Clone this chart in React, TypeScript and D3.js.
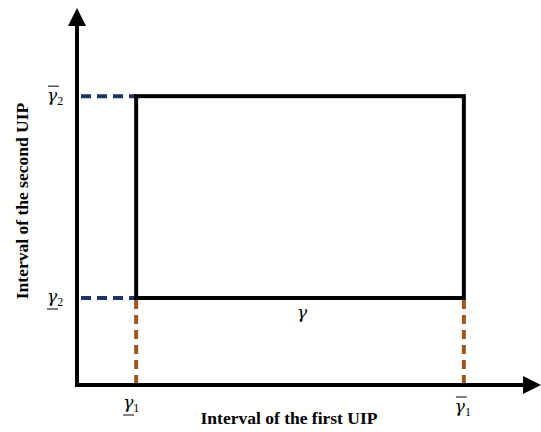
import React from "react";
import * as d3 from "d3";

// interval bounds (axis units)
const firstUIP = [1.02, 6.67]; // gamma1 lower, upper
const secondUIP = [1.5, 4.98]; // gamma2 lower, upper
const xDomain = [0, 8];
const yDomain = [0, 6.5];

const W = 541;
const H = 432;

const App = () => {
  const x = d3.scaleLinear().domain(xDomain).range([77, 541]);
  const y = d3.scaleLinear().domain(yDomain).range([385, 8]);

  const x0 = x(0);
  const y0 = y(0);
  const [gx1, gx2] = firstUIP.map((v) => x(v));
  const [gy1, gy2] = secondUIP.map((v) => y(v));

  const serif = "Liberation Serif, Times New Roman, serif";
  const greek = "DejaVu Serif, serif";
  const navy = "#1c3468";
  const brown = "#a0561f";

  const gamma = (cx: number, cy: number, sub: string, mark: "over" | "under") => (
    <g>
      <text x={cx} y={cy} fontFamily={greek} fontStyle="italic" fontSize={17}>
        γ
        <tspan fontFamily={serif} fontStyle="normal" fontSize={12} dy={4}>
          {sub}
        </tspan>
      </text>
      {mark === "over" ? (
        <line x1={cx + 1} x2={cx + 12} y1={cy - 15} y2={cy - 15} stroke="#000" strokeWidth={1} />
      ) : (
        <line x1={cx} x2={cx + 11} y1={cy + 7} y2={cy + 7} stroke="#000" strokeWidth={1} />
      )}
    </g>
  );

  return (
    <svg width={W} height={H} style={{ position: "absolute", left: 0, top: 0 }}>
      {/* dashed guides */}
      <line x1={x0 + 4} x2={gx1} y1={gy2} y2={gy2} stroke={navy} strokeWidth={4} strokeDasharray="10,6" />
      <line x1={x0 + 4} x2={gx1} y1={gy1} y2={gy1} stroke={navy} strokeWidth={4} strokeDasharray="10,6" />
      <line x1={gx1} x2={gx1} y1={gy1 + 2} y2={y0} stroke={brown} strokeWidth={4} strokeDasharray="9,6" />
      <line x1={gx2} x2={gx2} y1={gy1 + 2} y2={y0} stroke={brown} strokeWidth={4} strokeDasharray="9,6" />

      {/* rectangle */}
      <rect x={gx1} y={gy2} width={gx2 - gx1} height={gy1 - gy2} fill="none" stroke="#000" strokeWidth={4} />

      {/* axes */}
      <line x1={x0} x2={x0} y1={y0 + 2} y2={22} stroke="#000" strokeWidth={4} />
      <path d={`M${x0},8 L${x0 - 9},26 L${x0 + 9},26 Z`} fill="#000" />
      <line x1={x0 - 2} x2={525} y1={y0} y2={y0} stroke="#000" strokeWidth={4} />
      <path d={`M541,${y0} L523,${y0 - 9} L523,${y0 + 9} Z`} fill="#000" />

      {/* labels */}
      {gamma(47, gy2 + 5, "2", "over")}
      {gamma(47, gy1 + 4, "2", "under")}
      {gamma(gx1 - 13, 408, "1", "under")}
      {gamma(gx2 - 9, 412, "1", "over")}
      <text x={(gx1 + gx2) / 2 + 2} y={318} fontFamily={greek} fontStyle="italic" fontSize={17} textAnchor="middle">
        γ
      </text>

      <text x={289} y={424} fontFamily={serif} fontWeight="bold" fontSize={17.5} textAnchor="middle">
        Interval of the first UIP
      </text>
      <text
        transform={`translate(28,201) rotate(-90)`}
        fontFamily={serif}
        fontWeight="bold"
        fontSize={17.5}
        textAnchor="middle"
      >
        Interval of the second UIP
      </text>
    </svg>
  );
};

export default App;
